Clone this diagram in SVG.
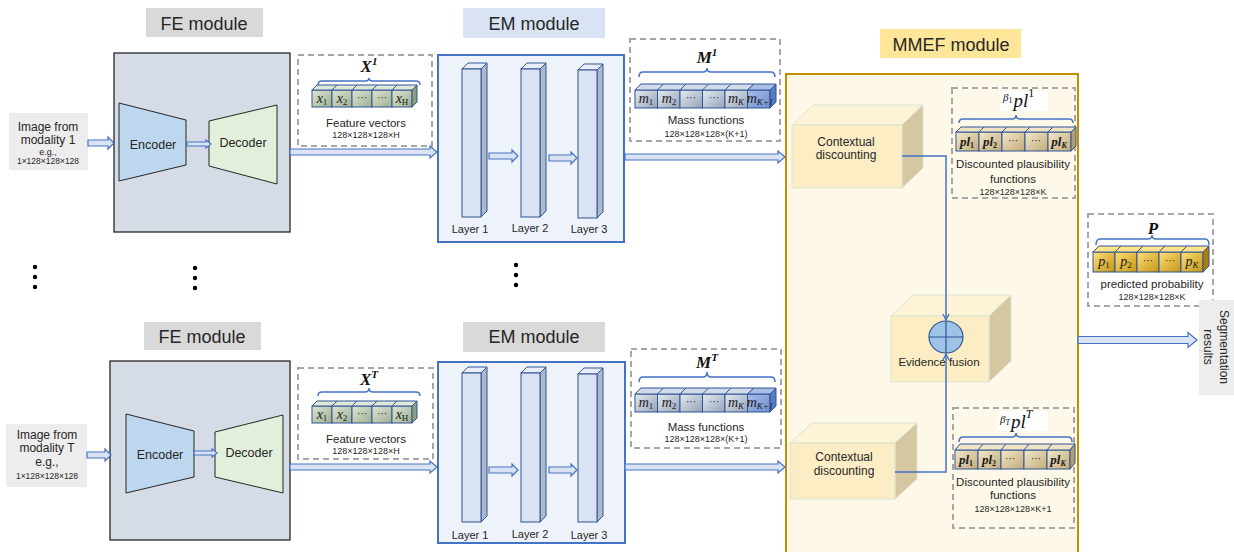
<svg xmlns="http://www.w3.org/2000/svg" width="1234" height="552" viewBox="0 0 1234 552">
<defs>
<style>
text{font-family:"Liberation Sans",Arial,sans-serif;fill:#262626}
.lbl{font-size:18px;text-anchor:middle}
.t12{font-size:12px;text-anchor:middle}
.t11{font-size:11.5px;text-anchor:middle}
.t10{font-size:11px;text-anchor:middle}
.dim{font-size:9px;text-anchor:middle}
.ml{font-family:"Liberation Serif",serif;font-style:italic;font-weight:bold;font-size:17px;text-anchor:middle;fill:#111}
.ct{font-family:"Liberation Serif",serif;font-style:italic;font-size:14px;text-anchor:middle;fill:#1a1a1a}
.dots{font-family:"Liberation Sans",sans-serif;font-size:10px;text-anchor:middle;fill:#1a1a1a}
.dash{fill:none;stroke:#a6a6a6;stroke-width:2;stroke-dasharray:6 4}
.brace{fill:none;stroke:#4472c4;stroke-width:1.5}
.cube{stroke:#2f5597;stroke-width:1}
.barrow{fill:#dae3f3;stroke:#4472c4;stroke-width:1.2}
.layerF{fill:#dae3f3;stroke:#2f5597;stroke-width:1}
.layerT{fill:#e9eef8;stroke:#2f5597;stroke-width:1}
.layerS{fill:#adb9ca;stroke:#2f5597;stroke-width:1}
.boxF{fill:#fcedc5;stroke:#d9e6cf;stroke-width:1}
.boxT{fill:#fdf3d6;stroke:#d9e6cf;stroke-width:1}
.boxS{fill:#d6c7a3;stroke:#d9e6cf;stroke-width:1}
.line{fill:none;stroke:#4472c4;stroke-width:1.5}
</style>
<linearGradient id="gFeat" x1="0" y1="0" x2="1" y2="1"><stop offset="0" stop-color="#dde6d4"/><stop offset="1" stop-color="#9fb090"/></linearGradient>
<linearGradient id="gMass" x1="0" y1="0" x2="1" y2="1"><stop offset="0" stop-color="#e6eaf1"/><stop offset="1" stop-color="#94a3b9"/></linearGradient>
<linearGradient id="gMassL" x1="0" y1="0" x2="1" y2="1"><stop offset="0" stop-color="#a9bde6"/><stop offset="1" stop-color="#6f8fd1"/></linearGradient>
<linearGradient id="gPl" x1="0" y1="0" x2="1" y2="1"><stop offset="0" stop-color="#f3e9cc"/><stop offset="1" stop-color="#c2ab78"/></linearGradient>
<linearGradient id="gP" x1="0" y1="0" x2="1" y2="1"><stop offset="0" stop-color="#ffe07a"/><stop offset="1" stop-color="#c49612"/></linearGradient>
<marker id="ah" markerWidth="8" markerHeight="8" refX="7" refY="4" orient="auto" markerUnits="userSpaceOnUse"><path d="M1,1 L7,4 L1,7" fill="none" stroke="#4472c4" stroke-width="1.3"/></marker>
</defs>
<rect width="1234" height="552" fill="#ffffff"/>

<g id="mmef">
<rect x="880" y="29" width="141" height="29" fill="#ffe699"/>
<text class="lbl" x="951" y="51">MMEF module</text>
<rect x="786" y="74" width="292" height="490" fill="#fef8e8" stroke="#bf9000" stroke-width="2"/>
</g>

<g id="input1">
<rect x="9" y="113" width="79" height="57" fill="#ededed"/>
<text class="t12" x="48" y="131">Image from</text>
<text class="t12" x="48" y="144">modality 1</text>
<text class="dim" x="48" y="155">e.g.,</text>
<text class="dim" x="48" y="164" style="font-size:8.5px">1×128×128×128</text>
</g>
<g id="fe1">
<rect x="146" y="8" width="117" height="29" fill="#d9d9d9"/>
<text class="lbl" x="204" y="30">FE module</text>
<rect x="114" y="53" width="176" height="179" fill="#d6dce5" stroke="#262626" stroke-width="1.3"/>
<polygon points="119,103 186,120 186,165 119,181" fill="#bdd7ee" stroke="#262626" stroke-width="1"/>
<polygon points="209,121 277,105 277,184 209,166" fill="#e2efda" stroke="#262626" stroke-width="1"/>
<text class="t12" style="font-size:12.5px" x="153" y="149">Encoder</text>
<text class="t12" style="font-size:12.5px" x="243" y="147">Decoder</text>
</g>
<g id="feat1">
<rect class="dash" x="298" y="55" width="134" height="91"/>
<text class="ml" x="369" y="72">X<tspan font-size="11" dy="-7">1</tspan></text>
<path class="brace" d="M318 85Q318 81 322 81H365Q369 81 369 78Q369 81 373 81H416Q420 81 420 85"/>
<g class="cube">
<rect x="312" y="90" width="20" height="17" fill="url(#gFeat)"/><rect x="332" y="90" width="20" height="17" fill="url(#gFeat)"/><rect x="352" y="90" width="20" height="17" fill="url(#gFeat)"/><rect x="372" y="90" width="20" height="17" fill="url(#gFeat)"/><rect x="392" y="90" width="20" height="17" fill="url(#gFeat)"/>
<polygon points="312,90 317,85 417,85 412,90" fill="#dfe7d6"/>
<path d="M332 90L337 85M352 90L357 85M372 90L377 85M392 90L397 85" fill="none"/>
<polygon points="412,90 417,85 417,102 412,107" fill="#8e9e80"/>
</g>
<text class="ct" x="322" y="103">x<tspan font-size="9" dy="2" font-style="normal">1</tspan></text>
<text class="ct" x="342" y="103">x<tspan font-size="9" dy="2" font-style="normal">2</tspan></text>
<text class="dots" x="362" y="101">···</text>
<text class="dots" x="382" y="101">···</text>
<text class="ct" x="402" y="103">x<tspan font-size="9" dy="2" font-style="normal">H</tspan></text>
<text class="t11" x="366" y="127">Feature vectors</text>
<text class="dim" x="366" y="138">128×128×128×H</text>
</g>
<g id="em1">
<rect x="463" y="8" width="142" height="30" fill="#dae3f3"/>
<text class="lbl" x="534" y="30">EM module</text>
<rect x="438" y="55" width="186" height="187" fill="#eef2fa" stroke="#4472c4" stroke-width="2"/>
<polygon class="layerT" points="462,69 468,63 487,63 481,69"/><polygon class="layerS" points="481,69 487,63 487,211 481,217"/><rect class="layerF" x="462" y="69" width="19" height="148"/>
<polygon class="layerT" points="521,69 527,63 546,63 540,69"/><polygon class="layerS" points="540,69 546,63 546,211 540,217"/><rect class="layerF" x="521" y="69" width="19" height="148"/>
<polygon class="layerT" points="578,70 584,64 603,64 597,70"/><polygon class="layerS" points="597,70 603,64 603,212 597,218"/><rect class="layerF" x="578" y="70" width="19" height="148"/>
<text class="t10" x="470" y="233">Layer 1</text>
<text class="t10" x="530" y="232">Layer 2</text>
<text class="t10" x="589" y="233">Layer 3</text>
</g>
<g id="mass1">
<rect class="dash" x="630" y="39" width="150" height="102"/>
<text class="ml" x="707" y="63">M<tspan font-size="11" dy="-7">1</tspan></text>
<path class="brace" d="M639 77Q639 72 643 72H703Q707 72 707 68Q707 72 711 72H771Q775 72 775 77"/>
<g class="cube">
<rect x="635" y="90" width="22.5" height="18" fill="url(#gMass)"/><rect x="657.5" y="90" width="22.5" height="18" fill="url(#gMass)"/><rect x="680" y="90" width="22.5" height="18" fill="url(#gMass)"/><rect x="702.5" y="90" width="22.5" height="18" fill="url(#gMass)"/><rect x="725" y="90" width="22.5" height="18" fill="url(#gMass)"/><rect x="747.5" y="90" width="22.5" height="18" fill="url(#gMassL)"/>
<polygon points="635,90 641,84 754,84 747.5,90" fill="#d3dbe8"/>
<polygon points="747.5,90 754,84 776,84 770,90" fill="#a9bde6"/>
<path d="M657.5 90L663.5 84M680 90L686 84M702.5 90L708.5 84M725 90L731 84" fill="none"/>
<polygon points="770,90 776,84 776,102 770,108" fill="#5a7cc2"/>
</g>
<text class="ct" x="646" y="103">m<tspan font-size="9" dy="2" font-style="normal">1</tspan></text>
<text class="ct" x="669" y="103">m<tspan font-size="9" dy="2" font-style="normal">2</tspan></text>
<text class="dots" x="691" y="101">···</text>
<text class="dots" x="714" y="101">···</text>
<text class="ct" x="736" y="103">m<tspan font-size="9" dy="2">K</tspan></text>
<text class="ct" x="760" y="103">m<tspan font-size="9" dy="2">K+1</tspan></text>
<text class="t11" x="706" y="124">Mass functions</text>
<text class="dim" x="706" y="137">128×128×128×(K+1)</text>
</g>

<g id="cd1">
<polygon class="boxT" points="792,125 813,105 923,105 902,125"/>
<polygon class="boxS" points="902,125 923,105 923,168 902,188"/>
<rect class="boxF" x="792" y="125" width="110" height="63"/>
<text class="t12" x="846" y="146">Contextual</text>
<text class="t12" x="846" y="159">discounting</text>
</g>
<g id="pl1">
<rect class="dash" x="952" y="88" width="123" height="110"/>
<rect x="1000" y="91" width="48" height="20" fill="#ffffff"/>
<text x="1003" y="101" style="font-family:'Liberation Serif',serif;font-style:italic;fill:#111"><tspan font-size="11">β</tspan><tspan font-size="8" dy="2" font-style="normal">1</tspan><tspan font-size="19" dy="4" dx="1">pl</tspan><tspan font-size="12" dy="-10" font-style="normal">1</tspan></text>
<path class="brace" d="M959 123Q959 119 963 119H1012Q1016 119 1016 115Q1016 119 1020 119H1069Q1073 119 1073 123"/>
<g class="cube">
<rect x="956" y="132" width="23" height="19" fill="url(#gPl)"/><rect x="979" y="132" width="23" height="19" fill="url(#gPl)"/><rect x="1002" y="132" width="23" height="19" fill="url(#gPl)"/><rect x="1025" y="132" width="23" height="19" fill="url(#gPl)"/><rect x="1048" y="132" width="23" height="19" fill="url(#gPl)"/>
<polygon points="956,132 961,127 1076,127 1071,132" fill="#efe4c6"/>
<path d="M979 132L984 127M1002 132L1007 127M1025 132L1030 127M1048 132L1053 127" fill="none"/>
<polygon points="1071,132 1076,127 1076,146 1071,151" fill="#b39e70"/>
</g>
<text class="ct" x="967" y="146" style="font-weight:bold;font-size:13px">pl<tspan font-size="8" dy="2" font-style="normal">1</tspan></text>
<text class="ct" x="990" y="146" style="font-weight:bold;font-size:13px">pl<tspan font-size="8" dy="2" font-style="normal">2</tspan></text>
<text class="dots" x="1013" y="144">···</text>
<text class="dots" x="1036" y="144">···</text>
<text class="ct" x="1059" y="146" style="font-weight:bold;font-size:13px">pl<tspan font-size="8" dy="2">K</tspan></text>
<text class="t12" style="font-size:11.5px" x="1013" y="168">Discounted plausibility</text>
<text class="t12" style="font-size:11.5px" x="1013" y="183">functions</text>
<text class="dim" x="1013" y="195">128×128×128×K</text>
</g>
<g id="fusion">
<polygon class="boxT" points="891,316 913,295 1011,295 989,316"/>
<polygon class="boxS" points="989,316 1011,295 1011,361 989,382"/>
<rect class="boxF" x="891" y="316" width="98" height="66"/>
<ellipse cx="946" cy="337" rx="17" ry="16" fill="#9dc3e6" stroke="#2f5597" stroke-width="1.2"/>
<path d="M929 337H963M946 321V353" stroke="#2f5597" stroke-width="1.2"/>
<text class="t11" x="939" y="366">Evidence fusion</text>
</g>
<g id="cdT">
<polygon class="boxT" points="790,443 812,423 917,423 895,443"/>
<polygon class="boxS" points="895,443 917,423 917,479 895,499"/>
<rect class="boxF" x="790" y="443" width="105" height="56"/>
<text class="t12" x="844" y="461">Contextual</text>
<text class="t12" x="844" y="475">discounting</text>
</g>
<g id="plT">
<rect class="dash" x="953" y="408" width="121" height="120"/>
<rect x="998" y="411" width="50" height="20" fill="#ffffff"/>
<text x="1000" y="423" style="font-family:'Liberation Serif',serif;font-style:italic;fill:#111"><tspan font-size="11">β</tspan><tspan font-size="8" dy="2">T</tspan><tspan font-size="19" dy="3" dx="1">pl</tspan><tspan font-size="12" dy="-10">T</tspan></text>
<path class="brace" d="M959 442Q959 437 963 437H1012Q1016 437 1016 433Q1016 437 1020 437H1068Q1072 437 1072 442"/>
<g class="cube">
<rect x="955" y="450" width="23" height="19" fill="url(#gPl)"/><rect x="978" y="450" width="23" height="19" fill="url(#gPl)"/><rect x="1001" y="450" width="23" height="19" fill="url(#gPl)"/><rect x="1024" y="450" width="23" height="19" fill="url(#gPl)"/><rect x="1047" y="450" width="23" height="19" fill="url(#gPl)"/>
<polygon points="955,450 960,444 1075,444 1070,450" fill="#efe4c6"/>
<path d="M978 450L983 444M1001 450L1006 444M1024 450L1029 444M1047 450L1052 444" fill="none"/>
<polygon points="1070,450 1075,444 1075,463 1070,469" fill="#b39e70"/>
</g>
<text class="ct" x="966" y="464" style="font-weight:bold;font-size:13px">pl<tspan font-size="8" dy="2" font-style="normal">1</tspan></text>
<text class="ct" x="989" y="464" style="font-weight:bold;font-size:13px">pl<tspan font-size="8" dy="2" font-style="normal">2</tspan></text>
<text class="dots" x="1010" y="462">···</text>
<text class="dots" x="1036" y="462">···</text>
<text class="ct" x="1058" y="464" style="font-weight:bold;font-size:13px">pl<tspan font-size="8" dy="2">K</tspan></text>
<text class="t12" style="font-size:11.5px" x="1013" y="486">Discounted plausibility</text>
<text class="t12" style="font-size:11.5px" x="1013" y="499">functions</text>
<text class="dim" x="1013" y="512">128×128×128×K+1</text>
</g>
<g id="prob">
<rect class="dash" x="1088" y="214" width="125" height="92"/>
<text class="ml" x="1153" y="234">P</text>
<path class="brace" d="M1096 245Q1096 239 1100 239H1148Q1152 239 1152 235Q1152 239 1156 239H1205Q1209 239 1209 245"/>
<g class="cube">
<rect x="1093" y="252" width="22" height="20" fill="url(#gP)"/><rect x="1115" y="252" width="22" height="20" fill="url(#gP)"/><rect x="1137" y="252" width="22" height="20" fill="url(#gP)"/><rect x="1159" y="252" width="22" height="20" fill="url(#gP)"/><rect x="1181" y="252" width="22" height="20" fill="url(#gP)"/>
<polygon points="1093,252 1099,246 1209,246 1203,252" fill="#ffe38a"/>
<path d="M1115 252L1121 246M1137 252L1143 246M1159 252L1165 246M1181 252L1187 246" fill="none"/>
<polygon points="1203,252 1209,246 1209,266 1203,272" fill="#a87f0a"/>
</g>
<text class="ct" x="1104" y="266">p<tspan font-size="9" dy="2" font-style="normal">1</tspan></text>
<text class="ct" x="1126" y="266">p<tspan font-size="9" dy="2" font-style="normal">2</tspan></text>
<text class="dots" x="1148" y="264">···</text>
<text class="dots" x="1170" y="264">···</text>
<text class="ct" x="1192" y="266">p<tspan font-size="9" dy="2">K</tspan></text>
<text class="t11" x="1152" y="288">predicted probability</text>
<text class="dim" x="1152" y="300">128×128×128×K</text>
</g>
<g id="seg">
<rect x="1199" y="300" width="35" height="95" fill="#ededed"/>
<g transform="translate(1216,347) rotate(90)">
<text class="t12" x="0" y="-4">Segmentation</text>
<text class="t12" x="0" y="12">results</text>
</g>
</g>

<g id="ellipses" fill="#000">
<circle cx="35" cy="267" r="2.2"/><circle cx="35" cy="277" r="2.2"/><circle cx="35" cy="287" r="2.2"/>
<circle cx="195" cy="268" r="2.2"/><circle cx="195" cy="278" r="2.2"/><circle cx="195" cy="288" r="2.2"/>
<circle cx="516" cy="265" r="2.2"/><circle cx="516" cy="275" r="2.2"/><circle cx="516" cy="285" r="2.2"/>
</g>

<g id="inputT">
<rect x="6" y="424" width="81" height="63" fill="#ededed"/>
<text class="t12" x="47" y="439">Image from</text>
<text class="t12" x="47" y="452">modality T</text>
<text class="t12" x="47" y="466">e.g.,</text>
<text class="dim" x="47" y="479" style="font-size:8.5px">1×128×128×128</text>
</g>
<g id="feT">
<rect x="144" y="322" width="117" height="28" fill="#d9d9d9"/>
<text class="lbl" x="202" y="343">FE module</text>
<rect x="110" y="361" width="180" height="179" fill="#d6dce5" stroke="#262626" stroke-width="1.3"/>
<polygon points="126,414 194,431 194,477 126,493" fill="#bdd7ee" stroke="#262626" stroke-width="1"/>
<polygon points="215,432 283,415 283,493 215,477" fill="#e2efda" stroke="#262626" stroke-width="1"/>
<text class="t12" style="font-size:12.5px" x="160" y="459">Encoder</text>
<text class="t12" style="font-size:12.5px" x="249" y="457">Decoder</text>
</g>
<g id="featT">
<rect class="dash" x="298" y="368" width="135" height="91"/>
<text class="ml" x="369" y="385">X<tspan font-size="11" dy="-7">T</tspan></text>
<path class="brace" d="M318 396Q318 392 322 392H365Q369 392 369 388Q369 392 373 392H416Q420 392 420 396"/>
<g class="cube">
<rect x="312" y="406" width="20" height="17" fill="url(#gFeat)"/><rect x="332" y="406" width="20" height="17" fill="url(#gFeat)"/><rect x="352" y="406" width="20" height="17" fill="url(#gFeat)"/><rect x="372" y="406" width="20" height="17" fill="url(#gFeat)"/><rect x="392" y="406" width="20" height="17" fill="url(#gFeat)"/>
<polygon points="312,406 317,401 417,401 412,406" fill="#dfe7d6"/>
<path d="M332 406L337 401M352 406L357 401M372 406L377 401M392 406L397 401" fill="none"/>
<polygon points="412,406 417,401 417,418 412,423" fill="#8e9e80"/>
</g>
<text class="ct" x="322" y="419">x<tspan font-size="9" dy="2" font-style="normal">1</tspan></text>
<text class="ct" x="342" y="419">x<tspan font-size="9" dy="2" font-style="normal">2</tspan></text>
<text class="dots" x="362" y="417">···</text>
<text class="dots" x="382" y="417">···</text>
<text class="ct" x="402" y="419">x<tspan font-size="9" dy="2" font-style="normal">H</tspan></text>
<text class="t11" x="366" y="443">Feature vectors</text>
<text class="dim" x="366" y="454">128×128×128×H</text>
</g>
<g id="emT">
<rect x="463" y="322" width="142" height="30" fill="#d9d9d9"/>
<text class="lbl" x="534" y="343">EM module</text>
<rect x="438" y="362" width="187" height="181" fill="#eef2fa" stroke="#4472c4" stroke-width="2"/>
<polygon class="layerT" points="462,373 468,367 487,367 481,373"/><polygon class="layerS" points="481,373 487,367 487,516 481,522"/><rect class="layerF" x="462" y="373" width="19" height="149"/>
<polygon class="layerT" points="521,373 527,367 546,367 540,373"/><polygon class="layerS" points="540,373 546,367 546,516 540,522"/><rect class="layerF" x="521" y="373" width="19" height="149"/>
<polygon class="layerT" points="578,374 584,368 603,368 597,374"/><polygon class="layerS" points="597,374 603,368 603,516 597,522"/><rect class="layerF" x="578" y="374" width="19" height="148"/>
<text class="t10" x="470" y="539">Layer 1</text>
<text class="t10" x="530" y="538">Layer 2</text>
<text class="t10" x="589" y="539">Layer 3</text>
</g>
<g id="massT">
<rect class="dash" x="631" y="349" width="150" height="99"/>
<text class="ml" x="707" y="368">M<tspan font-size="11" dy="-7">T</tspan></text>
<path class="brace" d="M639 382Q639 377 643 377H703Q707 377 707 372Q707 377 711 377H771Q775 377 775 382"/>
<g class="cube">
<rect x="635" y="394" width="22.5" height="18" fill="url(#gMass)"/><rect x="657.5" y="394" width="22.5" height="18" fill="url(#gMass)"/><rect x="680" y="394" width="22.5" height="18" fill="url(#gMass)"/><rect x="702.5" y="394" width="22.5" height="18" fill="url(#gMass)"/><rect x="725" y="394" width="22.5" height="18" fill="url(#gMass)"/><rect x="747.5" y="394" width="22.5" height="18" fill="url(#gMassL)"/>
<polygon points="635,394 641,388 754,388 747.5,394" fill="#d3dbe8"/>
<polygon points="747.5,394 754,388 776,388 770,394" fill="#a9bde6"/>
<path d="M657.5 394L663.5 388M680 394L686 388M702.5 394L708.5 388M725 394L731 388" fill="none"/>
<polygon points="770,394 776,388 776,406 770,412" fill="#5a7cc2"/>
</g>
<text class="ct" x="646" y="407">m<tspan font-size="9" dy="2" font-style="normal">1</tspan></text>
<text class="ct" x="669" y="407">m<tspan font-size="9" dy="2" font-style="normal">2</tspan></text>
<text class="dots" x="691" y="405">···</text>
<text class="dots" x="714" y="405">···</text>
<text class="ct" x="736" y="407">m<tspan font-size="9" dy="2">K</tspan></text>
<text class="ct" x="760" y="407">m<tspan font-size="9" dy="2">K+1</tspan></text>
<text class="t11" x="706" y="431">Mass functions</text>
<text class="dim" x="706" y="442">128×128×128×(K+1)</text>
</g>

<g id="connectors">
<path class="barrow" d="M88 140H108V137L114 143L108 149V146H88Z"/>
<path class="barrow" d="M187 142H206V140L211 144L206 148V146H187Z"/>
<path class="barrow" d="M290 149H430V146L437 152L430 158V155H290Z"/>
<path class="barrow" d="M489 153H512V150L518 156L512 162V159H489Z"/>
<path class="barrow" d="M549 155H571V152L577 158L571 164V161H549Z"/>
<path class="barrow" d="M625 154H778V151L785 157L778 163V160H625Z"/>
<path class="barrow" d="M87 452H105V449L111 455L105 461V458H87Z"/>
<path class="barrow" d="M194 451H212V449L217 453L212 457V455H194Z"/>
<path class="barrow" d="M290 464H430V461L437 467L430 473V470H290Z"/>
<path class="barrow" d="M489 467H512V464L518 470L512 476V473H489Z"/>
<path class="barrow" d="M549 467H571V464L577 470L571 476V473H549Z"/>
<path class="barrow" d="M625 464H778V461L785 467L778 473V470H625Z"/>
<path class="barrow" d="M1078 336.5H1188V332.5L1197 340L1188 347.5V343.5H1078Z"/>
<path class="line" d="M902 156H946V320" marker-end="url(#ah)"/>
<path class="line" d="M895 472H946V354" marker-end="url(#ah)"/>
</g>
</svg>
